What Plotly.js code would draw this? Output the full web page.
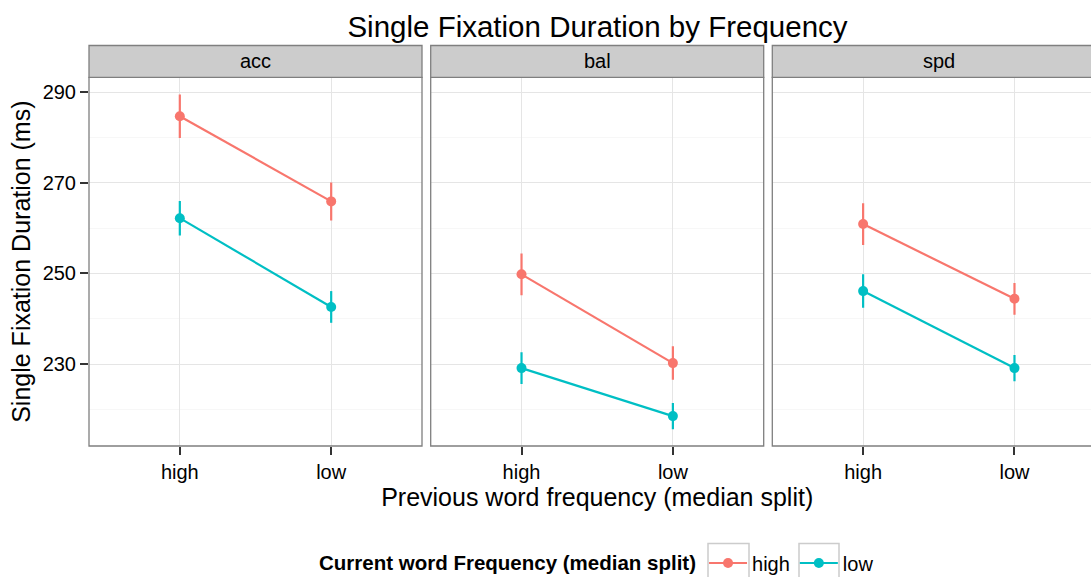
<!DOCTYPE html>
<html>
<head>
<meta charset="utf-8">
<script src="https://cdn.plot.ly/plotly-3.0.1.min.js"></script>
<style>html,body{margin:0;padding:0;background:#fff;}#chart{width:1091px;height:577px;}</style>
</head>
<body>
<div id="chart"></div>
<script>
// ---- data ----
const panels = ['acc', 'bal', 'spd'];
const prevFreq = ['high', 'low'];
const groups = ['high', 'low'];
const colors = ['#F8766D', '#00BFC4'];
// mean single fixation duration (ms): [panel][prevFreq]
const highMeans = [[284.7, 265.9], [249.8, 230.2], [260.9, 244.4]];
const lowMeans  = [[262.2, 242.6], [229.1, 218.5], [246.1, 229.1]];
const highErr   = [[4.8, 4.2], [4.6, 3.7], [4.6, 3.5]];
const lowErr    = [[3.8, 3.5], [3.5, 2.9], [3.7, 2.9]];
const yTicks = [230, 250, 270, 290];

const W = 1091, H = 577;
const FONT = 'Liberation Sans, Arial, Helvetica, sans-serif';
// panel pixel geometry
const px = [[89, 422], [430.7, 763.7], [772.3, 1091]];
const plotTop = 77.3, plotBot = 446, stripTop = 45.5;

const traces = [];
const means = [highMeans, lowMeans];
const errs = [highErr, lowErr];
panels.forEach((p, i) => {
  groups.forEach((g, k) => {
    traces.push({
      type: 'scatter', mode: 'lines+markers',
      x: prevFreq, y: means[k][i],
      error_y: {type: 'data', array: errs[k][i], visible: true, color: colors[k], thickness: 2.2, width: 0},
      line: {color: colors[k], width: 2.2},
      marker: {color: colors[k], size: 10},
      name: g, legendgroup: g, showlegend: i === 0,
      xaxis: i === 0 ? 'x' : 'x' + (i + 1),
      yaxis: i === 0 ? 'y' : 'y' + (i + 1),
      hoverinfo: 'x+y'
    });
  });
});

const yRange = [211.9, 293.3];
const layout = {
  width: W, height: H,
  margin: {l: 0, r: 0, t: 0, b: 0, autoexpand: false},
  paper_bgcolor: '#fff', plot_bgcolor: '#fff',
  font: {family: FONT, color: '#000'},
  title: {text: 'Single Fixation Duration by Frequency', x: 597.5 / W, xanchor: 'center', y: 1 - 27 / H, yanchor: 'middle', yref: 'container', xref: 'paper', font: {size: 29.5, color: '#000'}},
  showlegend: true,
  legend: {
    orientation: 'h', x: 317 / W, xanchor: 'left', y: 1 - 563 / H, yanchor: 'middle', yref: 'container',
    title: {text: '<b>Current word Frequency (median split)</b>', font: {size: 20.5}, side: 'left'},
    font: {size: 20}, itemwidth: 38, bgcolor: 'rgba(0,0,0,0)', tracegroupgap: 0
  },
  shapes: [],
  annotations: []
};

// legend key boxes (ggplot-style key backgrounds)
[[708, 749], [799, 839]].forEach(b => {
  layout.shapes.push({type: 'rect', xref: 'paper', yref: 'paper', x0: b[0] / W, x1: b[1] / W, y0: -0.02, y1: 1 - 543.5 / H, line: {color: '#cccccc', width: 1.5}, fillcolor: '#fff', layer: 'below'});
});

const yDom = [1 - plotBot / H, 1 - plotTop / H];
panels.forEach((p, i) => {
  const xa = i === 0 ? 'xaxis' : 'xaxis' + (i + 1);
  const ya = i === 0 ? 'yaxis' : 'yaxis' + (i + 1);
  const dom = [px[i][0] / W, px[i][1] / W];
  const pxPerUnit = 333 / 2.2;
  const xr = i === 2 ? [-0.6, -0.6 + (px[i][1] - px[i][0]) / pxPerUnit] : [-0.6, 1.6];
  layout[xa] = {
    domain: dom, anchor: i === 0 ? 'y' : 'y' + (i + 1),
    type: 'category', categoryorder: 'array', categoryarray: prevFreq,
    range: xr, showgrid: true, gridcolor: '#e5e5e5', gridwidth: 1,
    zeroline: false, showline: false,
    ticks: 'outside', ticklen: 8, tickwidth: 2, tickcolor: '#333',
    tickfont: {size: 20, color: '#000'}, fixedrange: true, automargin: false
  };
  if (i === 1) {
    layout[xa].title = {text: 'Previous word frequency (median split)', font: {size: 25, color: '#000'}, standoff: 4};
  }
  layout[ya] = {
    domain: yDom, anchor: i === 0 ? 'x' : 'x' + (i + 1),
    range: yRange, tickmode: 'array', tickvals: yTicks,
    showgrid: true, gridcolor: '#e5e5e5', gridwidth: 1,
    minor: {dtick: 10, tick0: 220, showgrid: true, gridcolor: '#f7f7f7', gridwidth: 1, ticks: ''},
    zeroline: false, showline: false,
    ticks: i === 0 ? 'outside' : '', ticklen: 8, tickwidth: 2, tickcolor: '#333',
    showticklabels: i === 0,
    tickfont: {size: 20, color: '#000'}, fixedrange: true, automargin: false
  };
  if (i === 0) {
    layout[ya].title = {text: 'Single Fixation Duration (ms)', font: {size: 25, color: '#000'}, standoff: 4};
  }
  const x1 = i === 2 ? 1.01 : dom[1];
  // panel border
  layout.shapes.push({type: 'rect', xref: 'paper', yref: 'paper', x0: dom[0], x1: x1, y0: yDom[0], y1: yDom[1], line: {color: '#7f7f7f', width: 1.3}, fillcolor: 'rgba(0,0,0,0)', layer: 'above'});
  // strip
  layout.shapes.push({type: 'rect', xref: 'paper', yref: 'paper', x0: dom[0], x1: x1, y0: 1 - plotTop / H, y1: 1 - stripTop / H, line: {color: '#7f7f7f', width: 1.3}, fillcolor: '#cccccc', layer: 'above'});
  const stripCenter = i === 2 ? (px[i][0] + 1105) / 2 : (px[i][0] + px[i][1]) / 2;
  layout.annotations.push({text: p, xref: 'paper', yref: 'paper', x: stripCenter / W, y: 1 - (stripTop + plotTop) / 2 / H, xanchor: 'center', yanchor: 'middle', showarrow: false, font: {size: 20, color: '#000'}});
});

Plotly.newPlot('chart', traces, layout, {displayModeBar: false, staticPlot: true});
</script>
</body>
</html>
